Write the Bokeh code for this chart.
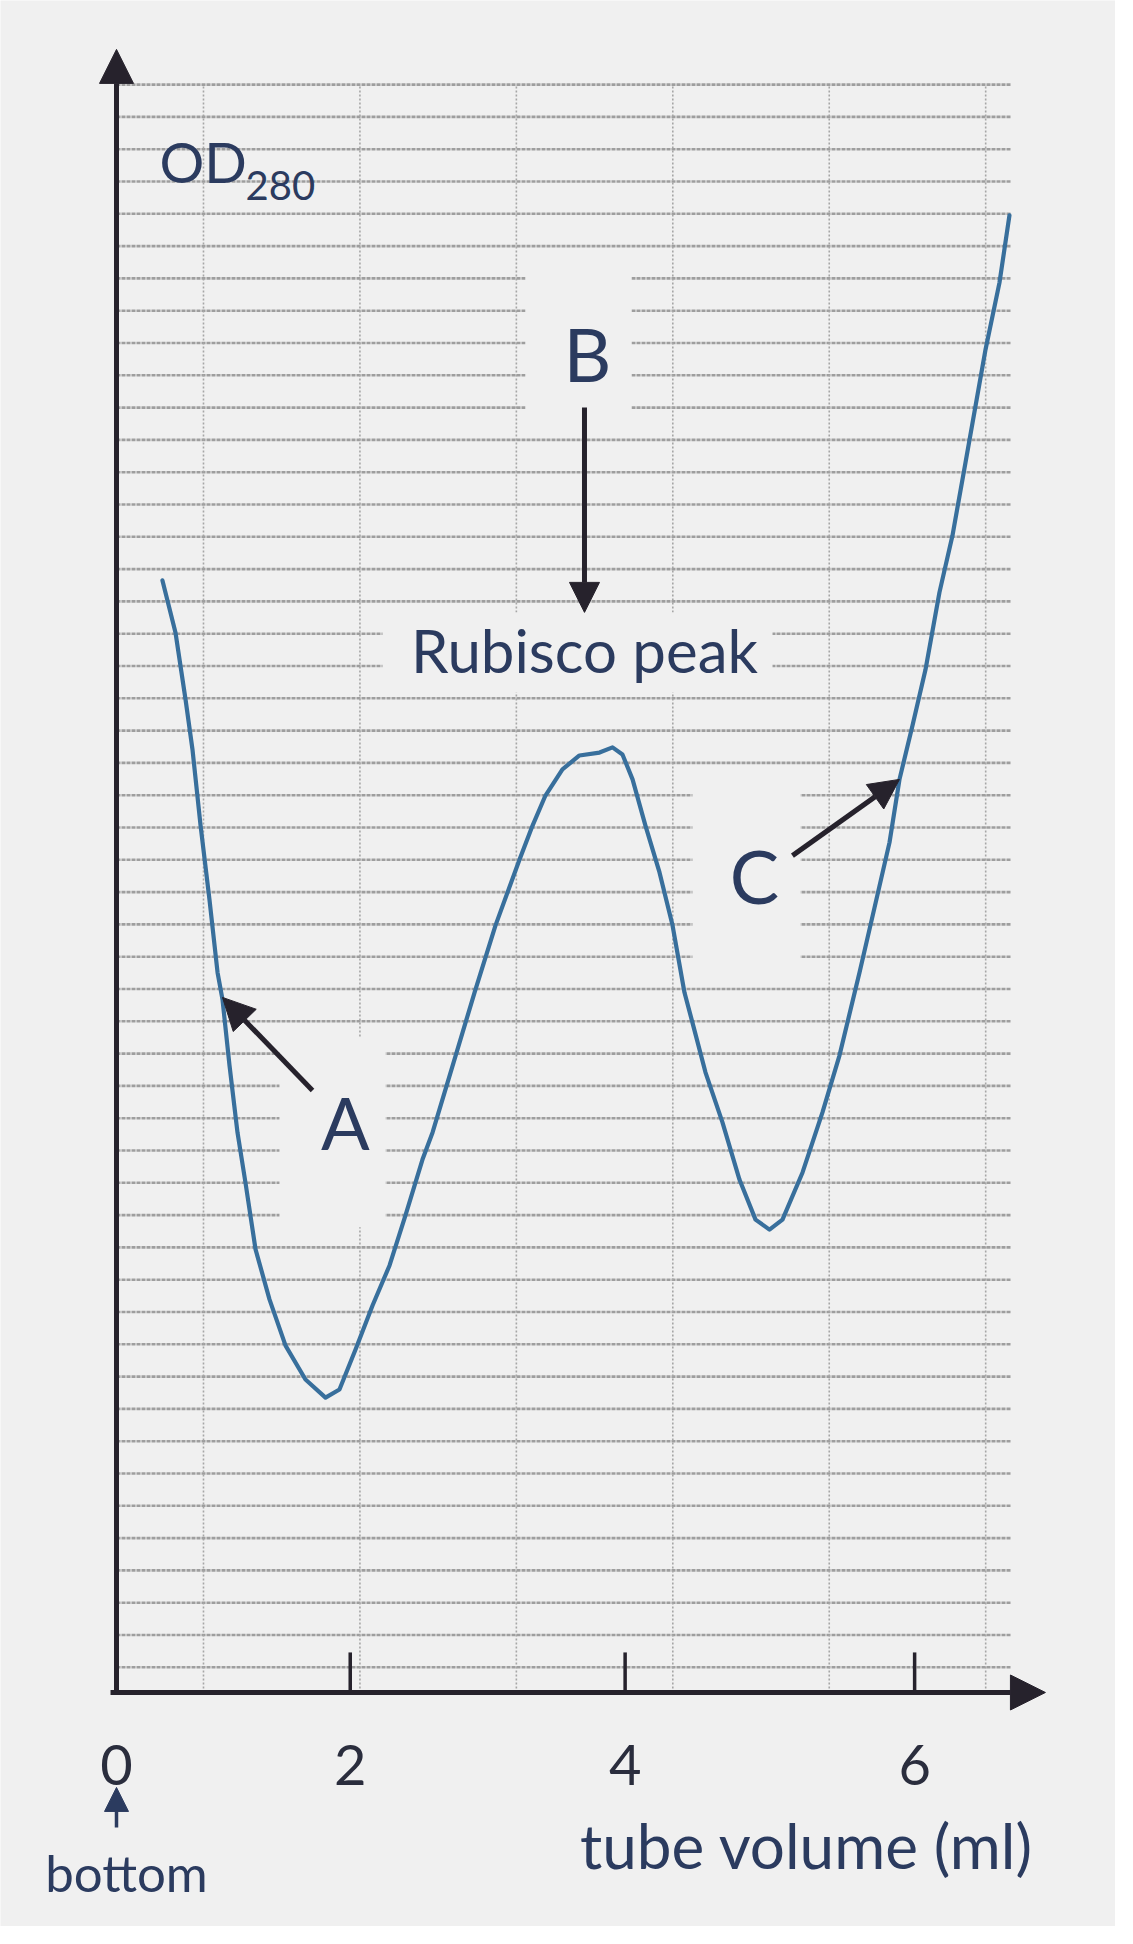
import numpy as np
from bokeh.plotting import figure
from bokeh.models import Range1d, Arrow, NormalHead
from bokeh.core.properties import value
from bokeh.embed import file_html
from bokeh.resources import INLINE

# ---------------- data ----------------
# x: tube volume in ml (linear frame of the drawing), y: OD280 in chart-paper divisions
tube_volume_ml = [0.346, 0.444, 0.520, 0.572, 0.633, 0.700, 0.761, 0.798, 0.851, 0.911,
                  0.971, 1.047, 1.152, 1.273, 1.423, 1.574, 1.679, 1.800, 1.928, 2.056,
                  2.176, 2.304, 2.380, 2.538, 2.696, 2.854, 3.035, 3.133, 3.230, 3.358,
                  3.486, 3.637, 3.735, 3.810, 3.886, 3.983, 4.089, 4.187, 4.277, 4.337,
                  4.435, 4.563, 4.691, 4.812, 4.917, 5.015, 5.166, 5.316, 5.444, 5.595,
                  5.708, 5.821, 5.896, 5.994, 6.092, 6.197, 6.295, 6.393, 6.544, 6.649,
                  6.724]
od_280 = [34.43, 32.82, 30.74, 29.20, 26.84, 24.55, 22.29, 21.46, 19.41, 17.34,
          15.79, 13.72, 12.17, 10.74, 9.69, 9.13, 9.38, 10.62, 11.98, 13.22,
          14.77, 16.50, 17.34, 19.50, 21.67, 23.75, 25.79, 26.84, 27.77, 28.58,
          29.01, 29.10, 29.26, 29.04, 28.27, 26.84, 25.39, 23.75, 21.67, 20.74,
          19.20, 17.65, 15.88, 14.64, 14.33, 14.64, 16.10, 17.96, 19.72, 22.29,
          24.30, 26.32, 28.27, 29.94, 31.67, 34.06, 35.82, 38.08, 41.58, 43.65,
          45.73]
tick_values = [0.0, 1.76, 3.83, 6.01]
tick_labels = ["0", "2", "4", "6"]

# ---------------- styling ----------------
BG = "#f0f0f0"
INK = "#26222c"
NAVY = "#2b3b5f"
DIGITS = "#2a2d3d"
CURVE = "#386f9c"
GRID_H = "#9e9e9e"
GRID_V = "#a6a6a6"
FONT = value("Lato")

p = figure(width=1115, height=1926, output_backend="svg", toolbar_location=None,
           x_range=Range1d(-0.8735, 7.5226), y_range=Range1d(-7.245, 52.384),
           x_axis_location=None, y_axis_location=None,
           min_border=0, background_fill_color=BG, border_fill_color=BG,
           outline_line_color=None)
p.grid.visible = False

# chart paper grid
paper_right = 6.732
paper_top = 49.78
rows = np.arange(0.78, paper_top + 0.01, 1.0)
p.segment(x0=[0.0] * len(rows), y0=rows, x1=[paper_right] * len(rows), y1=rows,
          line_color=GRID_H, line_width=2.6, line_dash="4 1")
cols = 0.655 + 1.178 * np.arange(6)
p.segment(x0=cols, y0=[0.0] * len(cols), x1=cols, y1=[paper_top] * len(cols),
          line_color=GRID_V, line_width=1.6, line_dash="2 2")

# blanked patches behind the labels
p.quad(left=[3.080, 2.003, 1.227, 4.337], right=[3.878, 4.940, 2.026, 5.151],
       bottom=[39.01, 30.96, 14.40, 22.14], top=[44.12, 33.44, 20.28, 28.17],
       fill_color=BG, line_color=None)

# curve
p.line(tube_volume_ml, od_280, line_color=CURVE, line_width=4.2, line_join="round", line_cap="round")

# axes drawn as arrows
p.add_layout(Arrow(end=NormalHead(size=35, fill_color=INK, line_color=INK, line_width=1),
                   x_start=-0.045, y_start=0.0, x_end=6.995, y_end=0.0,
                   line_color=INK, line_width=5))
p.add_layout(Arrow(end=NormalHead(size=34, fill_color=INK, line_color=INK, line_width=1),
                   x_start=0.0, y_start=-0.08, x_end=0.0, y_end=50.87,
                   line_color=INK, line_width=5))

# ticks and tick labels
p.segment(x0=tick_values[1:], y0=[0.0] * 3, x1=tick_values[1:], y1=[1.24] * 3,
          line_color=INK, line_width=3.5)
p.text(x=tick_values, y=[-2.23] * len(tick_values), text=tick_labels,
       text_align="center", text_baseline="alphabetic", text_font=FONT,
       text_font_size="56px", text_color=DIGITS)

# OD280 label
p.text(x=[0.324], y=[47.40], text=["OD"], text_align="left", text_baseline="alphabetic",
       text_font=FONT, text_font_size="56px", text_color=NAVY)
p.text(x=[0.972], y=[46.66], text=["280"], text_align="left", text_baseline="alphabetic",
       text_font=FONT, text_font_size="40px", text_color=NAVY)

# B / Rubisco peak
p.text(x=[3.547], y=[41.45], text=["B"], text_align="center", text_baseline="alphabetic",
       text_font=FONT, text_font_size="74px", text_color=NAVY)
p.add_layout(Arrow(end=NormalHead(size=30, fill_color=INK, line_color=INK, line_width=1),
                   x_start=3.524, y_start=39.78, x_end=3.524, y_end=33.44,
                   line_color=INK, line_width=5))
p.text(x=[3.524], y=[32.26], text=["Rubisco peak"], text_align="center",
       text_baseline="alphabetic", text_font=FONT, text_font_size="60px", text_color=NAVY)

# A
p.text(x=[1.724], y=[17.65], text=["A"], text_align="center", text_baseline="alphabetic",
       text_font=FONT, text_font_size="72px", text_color=NAVY)
p.add_layout(Arrow(end=NormalHead(size=32, fill_color=INK, line_color=INK, line_width=1),
                   x_start=1.476, y_start=18.64, x_end=0.798, y_end=21.52,
                   line_color=INK, line_width=5))

# C
p.text(x=[4.804], y=[25.29], text=["C"], text_align="center", text_baseline="alphabetic",
       text_font=FONT, text_font_size="74px", text_color=NAVY)
p.add_layout(Arrow(end=NormalHead(size=30, fill_color=INK, line_color=INK, line_width=1),
                   x_start=5.090, y_start=25.91, x_end=5.896, y_end=28.27,
                   line_color=INK, line_width=5))

# bottom marker and axis title
p.add_layout(Arrow(end=NormalHead(size=24, fill_color=NAVY, line_color=NAVY, line_width=1),
                   x_start=0.0, y_start=-4.18, x_end=0.0, y_end=-2.94,
                   line_color=NAVY, line_width=3.5))
p.text(x=[0.075], y=[-5.57], text=["bottom"], text_align="center", text_baseline="alphabetic",
       text_font=FONT, text_font_size="51px", text_color=NAVY)
p.text(x=[6.905], y=[-4.71], text=["tube volume (ml)"], text_align="right",
       text_baseline="alphabetic", text_font=FONT, text_font_size="62px", text_color=NAVY)

open("out.html", "w").write(file_html(p, INLINE))
